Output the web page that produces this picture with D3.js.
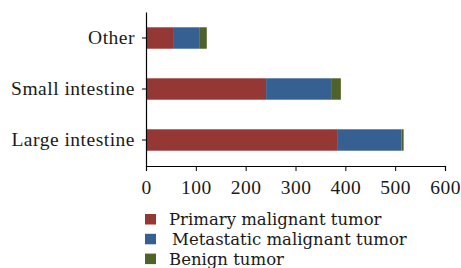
<!DOCTYPE html>
<html>
<head>
<meta charset="utf-8">
<script src="https://cdn.jsdelivr.net/npm/d3@7"></script>
<style>
  body { margin: 0; background: #fff; }
  text { font-family: "Liberation Serif", "DejaVu Serif", serif; fill: #1a1a1a; }
</style>
</head>
<body>
<div id="chart"></div>
<script>
// categories, bottom to top as drawn
var categories = ["Large intestine", "Small intestine", "Other"];
var seriesNames = ["Primary malignant tumor", "Metastatic malignant tumor", "Benign tumor"];
var primary = [385, 241, 56];
var metastatic = [128, 132, 52];
var benign = [4, 18, 14];
var xTicks = [0, 100, 200, 300, 400, 500, 600];
var colors = ["#953735", "#376092", "#4f6228"];

var W = 461, H = 268;
var margin = { top: 12, right: 16, bottom: 102, left: 146 };

var svg = d3.select("#chart").append("svg")
  .attr("width", W)
  .attr("height", H);

var g = svg.append("g")
  .attr("transform", "translate(" + margin.left + "," + margin.top + ")");

var width = 445 - margin.left,
  height = 166 - margin.top;

var rows = categories.map(function(c, i) {
  return { cat: c, v: [primary[i], metastatic[i], benign[i]] };
});

var xScale = d3.scaleLinear().domain([0, 600]).range([0, width]);
var yScale = d3.scaleBand()
  .domain(categories.slice().reverse())
  .range([0, height])
  .paddingInner(0.58)
  .paddingOuter(0.3);

// bars
rows.forEach(function(r) {
  var x0 = 0;
  r.v.forEach(function(v, k) {
    g.append("rect")
      .attr("x", xScale(x0))
      .attr("y", yScale(r.cat))
      .attr("width", xScale(x0 + v) - xScale(x0))
      .attr("height", yScale.bandwidth())
      .attr("fill", colors[k]);
    x0 += v;
  });
});

// axes
var xAxis = g.append("g")
  .attr("transform", "translate(0," + height + ")")
  .call(d3.axisBottom(xScale).tickValues(xTicks).tickSize(5).tickSizeOuter(5).tickPadding(9));
var yAxis = g.append("g")
  .call(d3.axisLeft(yScale).tickSize(4).tickSizeOuter(0).tickPadding(7));

[xAxis, yAxis].forEach(function(a) {
  a.select(".domain").attr("stroke", "#000").attr("stroke-width", 1.2);
  a.selectAll(".tick line").attr("stroke", "#000");
  a.selectAll("text")
    .style("font-size", "19.5px")
    .style("letter-spacing", "0.5px")
    .attr("fill", "#1a1a1a");
});
yAxis.selectAll(".tick text").attr("dy", "0.32em");

// legend (rows sit tight, as in the original)
var legend = svg.append("g").attr("transform", "translate(145,214)");
seriesNames.forEach(function(name, i) {
  var row = legend.append("g").attr("transform", "translate(0," + (i * 19.8) + ")");
  row.append("rect")
    .attr("width", 11)
    .attr("height", 10.5)
    .attr("fill", colors[i]);
  row.append("text")
    .attr("x", 24 + (i === 1 ? 3 : 0))
    .attr("y", 11)
    .style("font-family", "'DejaVu Serif', serif")
    .style("font-size", "16.5px")
    .text(name);
});
</script>
</body>
</html>
